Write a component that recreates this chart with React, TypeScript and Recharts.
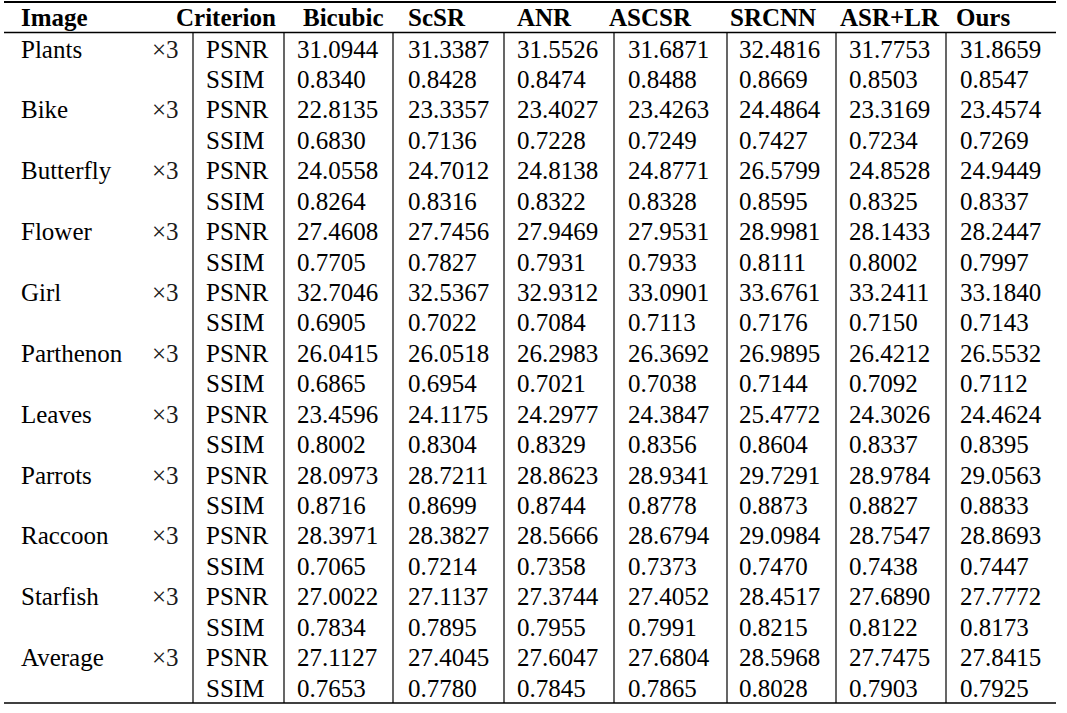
import React from 'react';
import { ScatterChart, Scatter, XAxis, YAxis, ReferenceLine } from 'recharts';

const images = ['Plants', 'Bike', 'Butterfly', 'Flower', 'Girl', 'Parthenon', 'Leaves', 'Parrots', 'Raccoon', 'Starfish', 'Average'];
const criteria = ['PSNR', 'SSIM'];
const methods = ['Bicubic', 'ScSR', 'ANR', 'ASCSR', 'SRCNN', 'ASR+LR', 'Ours'];
const upscale = '×3';

const bicubicPsnr = [31.0944, 22.8135, 24.0558, 27.4608, 32.7046, 26.0415, 23.4596, 28.0973, 28.3971, 27.0022, 27.1127];
const bicubicSsim = [0.834, 0.683, 0.8264, 0.7705, 0.6905, 0.6865, 0.8002, 0.8716, 0.7065, 0.7834, 0.7653];
const scsrPsnr = [31.3387, 23.3357, 24.7012, 27.7456, 32.5367, 26.0518, 24.1175, 28.7211, 28.3827, 27.1137, 27.4045];
const scsrSsim = [0.8428, 0.7136, 0.8316, 0.7827, 0.7022, 0.6954, 0.8304, 0.8699, 0.7214, 0.7895, 0.778];
const anrPsnr = [31.5526, 23.4027, 24.8138, 27.9469, 32.9312, 26.2983, 24.2977, 28.8623, 28.5666, 27.3744, 27.6047];
const anrSsim = [0.8474, 0.7228, 0.8322, 0.7931, 0.7084, 0.7021, 0.8329, 0.8744, 0.7358, 0.7955, 0.7845];
const ascsrPsnr = [31.6871, 23.4263, 24.8771, 27.9531, 33.0901, 26.3692, 24.3847, 28.9341, 28.6794, 27.4052, 27.6804];
const ascsrSsim = [0.8488, 0.7249, 0.8328, 0.7933, 0.7113, 0.7038, 0.8356, 0.8778, 0.7373, 0.7991, 0.7865];
const srcnnPsnr = [32.4816, 24.4864, 26.5799, 28.9981, 33.6761, 26.9895, 25.4772, 29.7291, 29.0984, 28.4517, 28.5968];
const srcnnSsim = [0.8669, 0.7427, 0.8595, 0.8111, 0.7176, 0.7144, 0.8604, 0.8873, 0.747, 0.8215, 0.8028];
const asrlrPsnr = [31.7753, 23.3169, 24.8528, 28.1433, 33.2411, 26.4212, 24.3026, 28.9784, 28.7547, 27.689, 27.7475];
const asrlrSsim = [0.8503, 0.7234, 0.8325, 0.8002, 0.715, 0.7092, 0.8337, 0.8827, 0.7438, 0.8122, 0.7903];
const oursPsnr = [31.8659, 23.4574, 24.9449, 28.2447, 33.184, 26.5532, 24.4624, 29.0563, 28.8693, 27.7772, 27.8415];
const oursSsim = [0.8547, 0.7269, 0.8337, 0.7997, 0.7143, 0.7112, 0.8395, 0.8833, 0.7447, 0.8173, 0.7925];

const psnrByMethod = [bicubicPsnr, scsrPsnr, anrPsnr, ascsrPsnr, srcnnPsnr, asrlrPsnr, oursPsnr];
const ssimByMethod = [bicubicSsim, scsrSsim, anrSsim, ascsrSsim, srcnnSsim, asrlrSsim, oursSsim];

// layout (pixels on x, image-group units on y)
const W = 1067;
const H = 713;
const FONT = '"Liberation Serif", "Times New Roman", serif';
const NAME_X = 21;
const SCALE_X = 152;
const CRIT_X = 206;
const HEAD_X = [303, 408, 517, 609, 730, 840, 956];
const VALUE_X = [297, 408, 517, 628, 739, 849, 960];
const RULE_X = [193, 284, 393, 504, 614, 727, 836, 946];
const ROW0 = 49; // px centre of first row
const GROUP = 60.86; // px per image group
const SUB = 0.5; // SSIM row sits half a group lower
const Y_LO = -ROW0 / GROUP;
const Y_HI = Y_LO + H / GROUP;
const px = (p: number) => (p - ROW0) / GROUP;
const HEAD_Y = px(17);
const TOP_RULE = px(2);
const HEAD_RULE = px(32.5);
const BOTTOM_RULE = px(703);

type CellT = { x: number; y: number; text: string; bold?: boolean; soft?: boolean };

const cells: CellT[] = [];
cells.push({ x: NAME_X, y: HEAD_Y, text: 'Image', bold: true });
cells.push({ x: 176, y: HEAD_Y, text: 'Criterion', bold: true });
methods.forEach((m, i) => cells.push({ x: HEAD_X[i], y: HEAD_Y, text: m, bold: true }));
images.forEach((name, g) => {
  cells.push({ x: NAME_X, y: g, text: name });
  cells.push({ x: SCALE_X, y: g, text: upscale, soft: true });
  criteria.forEach((c, s) => {
    const y = g + s * SUB;
    cells.push({ x: CRIT_X, y, text: c });
    const src = s === 0 ? psnrByMethod : ssimByMethod;
    src.forEach((arr, m) => cells.push({ x: VALUE_X[m], y, text: arr[g].toFixed(4) }));
  });
});

const renderCell = (props: any) => {
  const { cx, cy, payload } = props;
  return (
    <text
      x={cx}
      y={cy}
      dy={8.5}
      fontFamily={FONT}
      fontSize={25}
      fontWeight={payload.bold ? 700 : 400}
      fill={payload.soft ? '#1a1a1a' : '#000'}
    >
      {payload.text}
    </text>
  );
};

const line = { stroke: '#000', ifOverflow: 'visible' as const };

export default function App() {
  return (
    <div style={{ width: W, height: H, background: '#fff' }}>
      <style>{'body{margin:0}'}</style>
      <ScatterChart width={W} height={H} margin={{ top: 0, right: 0, bottom: 0, left: 0 }}>
        <XAxis type="number" dataKey="x" domain={[0, W]} allowDataOverflow hide />
        <YAxis type="number" dataKey="y" domain={[Y_LO, Y_HI]} allowDataOverflow reversed hide />
        <ReferenceLine {...line} strokeWidth={2} segment={[{ x: 4, y: TOP_RULE }, { x: 1056, y: TOP_RULE }]} />
        <ReferenceLine {...line} strokeWidth={1.6} segment={[{ x: 4, y: HEAD_RULE }, { x: 1056, y: HEAD_RULE }]} />
        <ReferenceLine {...line} strokeWidth={1.6} segment={[{ x: 4, y: BOTTOM_RULE }, { x: 1056, y: BOTTOM_RULE }]} />
        {RULE_X.map((x) => (
          <ReferenceLine key={x} {...line} strokeWidth={1.2} segment={[{ x, y: HEAD_RULE }, { x, y: BOTTOM_RULE }]} />
        ))}
        <Scatter data={cells} shape={renderCell} isAnimationActive={false} />
      </ScatterChart>
    </div>
  );
}
